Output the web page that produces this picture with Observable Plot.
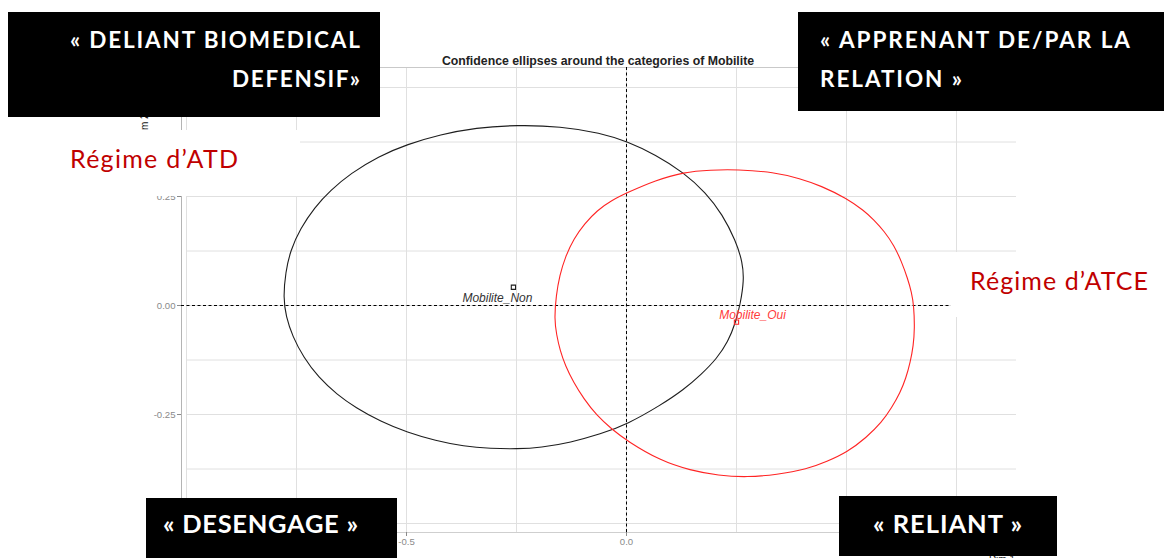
<!DOCTYPE html>
<html>
<head>
<meta charset="utf-8">
<script src="https://cdn.jsdelivr.net/npm/d3@7"></script>
<script src="https://cdn.jsdelivr.net/npm/@observablehq/plot@0.6"></script>
<style>
  html, body { margin: 0; padding: 0; background: #fff; }
  #chart { width: 1174px; height: 558px; overflow: hidden; }
</style>
</head>
<body>
<div id="chart"></div>
<script>
// ---------- data ----------
const title = "Confidence ellipses around the categories of Mobilite";
const categories = ["Mobilite_Non", "Mobilite_Oui"];
const categoryColors = ["#1e1e1e", "#ff2424"];
const labelColors = ["#333333", "#ff3b3b"];
const centerX = [-0.257, 0.250];
const centerY = [0.042, -0.038];

// confidence ellipse outlines
const nonX = [-0.780, -0.775, -0.764, -0.741, -0.709, -0.673, -0.627, -0.564, -0.498, -0.423,
              -0.343, -0.248, -0.150, -0.059, 0.002, 0.066, 0.130, 0.180, 0.218, 0.248,
              0.264, 0.267, 0.259, 0.248, 0.231, 0.205, 0.170, 0.130, 0.077, 0.002,
              -0.059, -0.127, -0.195, -0.248, -0.309, -0.370, -0.434, -0.498, -0.559, -0.616,
              -0.658, -0.700, -0.734, -0.759, -0.774];
const nonY = [0.018, 0.076, 0.126, 0.177, 0.225, 0.264, 0.303, 0.342, 0.370, 0.392,
              0.408, 0.414, 0.411, 0.396, 0.376, 0.346, 0.305, 0.259, 0.209, 0.149,
              0.099, 0.057, 0.005, -0.039, -0.083, -0.122, -0.158, -0.193, -0.229, -0.272,
              -0.295, -0.314, -0.326, -0.329, -0.328, -0.323, -0.310, -0.291, -0.266, -0.234,
              -0.204, -0.165, -0.119, -0.071, -0.025];
const ouiX = [-0.164, -0.160, -0.152, -0.139, -0.120, -0.095, -0.067, -0.034, 0.002, 0.066,
              0.130, 0.191, 0.252, 0.335, 0.395, 0.441, 0.502, 0.539, 0.562, 0.586,
              0.608, 0.625, 0.639, 0.648, 0.653, 0.655, 0.652, 0.645, 0.635, 0.622,
              0.603, 0.580, 0.545, 0.502, 0.455, 0.411, 0.341, 0.274, 0.209, 0.145,
              0.077, 0.002, -0.033, -0.068, -0.097, -0.120, -0.139, -0.151, -0.159];
const ouiY = [-0.031, 0.023, 0.069, 0.112, 0.153, 0.188, 0.218, 0.241, 0.259, 0.287,
              0.306, 0.311, 0.312, 0.306, 0.291, 0.275, 0.245, 0.218, 0.197, 0.170,
              0.138, 0.101, 0.062, 0.030, 0.000, -0.053, -0.092, -0.130, -0.167, -0.200,
              -0.234, -0.268, -0.303, -0.336, -0.358, -0.375, -0.388, -0.394, -0.390, -0.378,
              -0.356, -0.311, -0.284, -0.252, -0.214, -0.177, -0.138, -0.103, -0.067];

const xGridValues = [-1, -0.75, -0.5, -0.25, 0, 0.25, 0.5, 0.75];
const yGridValues = [-0.5, -0.375, -0.25, -0.125, 0, 0.125, 0.25, 0.375, 0.5];
// tick labels left visible by the annotation boxes
const xTickValues = [-0.5, 0];
const xTickLabels = ["-0.5", "0.0"];
const yTickValues = [-0.25, 0, 0.25];
const yTickLabels = ["-0.25", "0.00", "0.25"];
const xTitle = "Dim 1";
const yTitle = "Dim 2";

// overlay annotations (quadrant names and regimes)
const quadrantLines = [
  ["« DELIANT BIOMEDICAL", "DEFENSIF»"],
  ["« APPRENANT DE/PAR LA", "RELATION »"],
  ["« DESENGAGE »"],
  ["« RELIANT »"]
];
const regimeLabels = ["Régime d’ATD", "Régime d’ATCE"];

// ---------- build tables ----------
const xDomain = [-1.0114, 0.8864];
const yDomain = [-0.5206, 0.5459];
const ellipseNon = nonX.map((x, i) => ({x, y: nonY[i]}));
const ellipseOui = ouiX.map((x, i) => ({x, y: ouiY[i]}));
const centers = categories.map((c, i) => ({cat: c, x: centerX[i], y: centerY[i], i}));

const chart = Plot.plot({
  width: 1174,
  height: 558,
  marginLeft: 181,
  marginRight: 158,
  marginTop: 67,
  marginBottom: 26,
  style: {fontFamily: "'Liberation Sans', Arial, sans-serif", background: "#fff"},
  x: {domain: xDomain, axis: null},
  y: {domain: yDomain, axis: null},
  marks: [
    Plot.ruleY(yGridValues, {x1: -1, x2: xDomain[1], stroke: "#e0e0e0", strokeWidth: 1}),
    Plot.ruleX(xGridValues, {stroke: "#e0e0e0", strokeWidth: 1}),
    Plot.ruleY([yDomain[1]], {stroke: "#c9c9c9"}),
    Plot.ruleX([xDomain[0]], {stroke: "#b4b4b4"}),
    Plot.ruleY([yDomain[0]], {stroke: "#cfcfcf"}),
    Plot.ruleY([0], {stroke: "#000", strokeDasharray: "3,2.5", strokeWidth: 1}),
    Plot.ruleX([0], {stroke: "#000", strokeDasharray: "3,2.5", strokeWidth: 1}),
    Plot.line(ellipseNon, {x: "x", y: "y", curve: "basis-closed", stroke: categoryColors[0], strokeWidth: 1.1}),
    Plot.line(ellipseOui, {x: "x", y: "y", curve: "basis-closed", stroke: categoryColors[1], strokeWidth: 1.1}),
    Plot.dot(centers, {x: "x", y: "y", symbol: "square", r: 2.4, fill: "none",
      stroke: d => categoryColors[d.i], strokeWidth: 1.1}),
    Plot.text(centers.filter(d => d.i === 0), {x: "x", y: "y", text: "cat", dx: -16, dy: 10.5,
      fontStyle: "italic", fontSize: 12, fill: labelColors[0]}),
    Plot.text(centers.filter(d => d.i === 1), {x: "x", y: "y", text: "cat", dx: 16, dy: -6.7,
      fontStyle: "italic", fontSize: 12, fill: labelColors[1]}),
    Plot.axisX({ticks: xTickValues, tickFormat: d => xTickLabels[xTickValues.indexOf(d)],
      tickSize: 4, tickPadding: 2, fontSize: 9.6, color: "#8a8a8a", label: null}),
    Plot.axisY({ticks: yTickValues, tickFormat: d => yTickLabels[yTickValues.indexOf(d)],
      tickSize: 4, tickPadding: 2, fontSize: 9.6, color: "#8a8a8a", label: null}),
    Plot.text([title], {frameAnchor: "top", dx: -1, dy: -11.5, text: d => d,
      fontWeight: "bold", fontSize: 12.3, fill: "#222"})
  ]
});

// axis titles (mostly covered by the annotation boxes, as in the picture)
const svg = d3.select(chart);
svg.append("text").attr("transform", "translate(148,139.5) rotate(-90)")
  .attr("font-size", 10).attr("fill", "#111").attr("text-anchor", "start").text(yTitle);
svg.append("text").attr("x", 1015).attr("y", 563)
  .attr("font-size", 10).attr("fill", "#222").attr("text-anchor", "end").text(xTitle);

// ---------- overlay annotation boxes ----------
const ov = svg.append("g").attr("class", "overlay").attr("text-anchor", "start");
// white backing for regime labels
ov.append("rect").attr("x", 0).attr("y", 130).attr("width", 300).attr("height", 66).attr("fill", "#fff");
ov.append("rect").attr("x", 951).attr("y", 252).attr("width", 223).attr("height", 65).attr("fill", "#fff");

const boxes = [
  {x: 8, y: 12, w: 372, h: 105, size: 22.5, lines: [
    {x: 360, base: 48, anchor: "end", len: 290},
    {x: 360, base: 87, anchor: "end", len: 128}]},
  {x: 798, y: 12, w: 366, h: 99, size: 22.5, lines: [
    {x: 820, base: 48, anchor: "start", len: 310},
    {x: 820, base: 87, anchor: "start", len: 142}]},
  {x: 146, y: 498, w: 251, h: 60, size: 25.5, lines: [
    {x: 163, base: 533, anchor: "start", len: 195}]},
  {x: 839, y: 496, w: 218, h: 60, size: 25.5, lines: [
    {x: 873, base: 533, anchor: "start", len: 149}]}
];
boxes.forEach((b, bi) => {
  ov.append("rect").attr("x", b.x).attr("y", b.y).attr("width", b.w).attr("height", b.h).attr("fill", "#000");
  b.lines.forEach((l, li) => {
    ov.append("text").attr("x", l.x).attr("y", l.base).attr("text-anchor", l.anchor)
      .attr("font-family", "Lato, 'Open Sans', sans-serif").attr("font-weight", 700)
      .attr("font-size", b.size).attr("fill", "#fff")
      .attr("textLength", l.len).attr("lengthAdjust", "spacing")
      .text(quadrantLines[bi][li]);
  });
});

const regimePos = [{x: 70, base: 168, len: 168}, {x: 970, base: 290, len: 178}];
regimeLabels.forEach((t, i) => {
  ov.append("text").attr("x", regimePos[i].x).attr("y", regimePos[i].base)
    .attr("text-anchor", "start")
    .attr("font-family", "Lato, 'Open Sans', sans-serif").attr("font-size", 25)
    .attr("fill", "#c00000").attr("textLength", regimePos[i].len).attr("lengthAdjust", "spacing")
    .text(t);
});

document.getElementById("chart").appendChild(chart);
</script>
</body>
</html>
